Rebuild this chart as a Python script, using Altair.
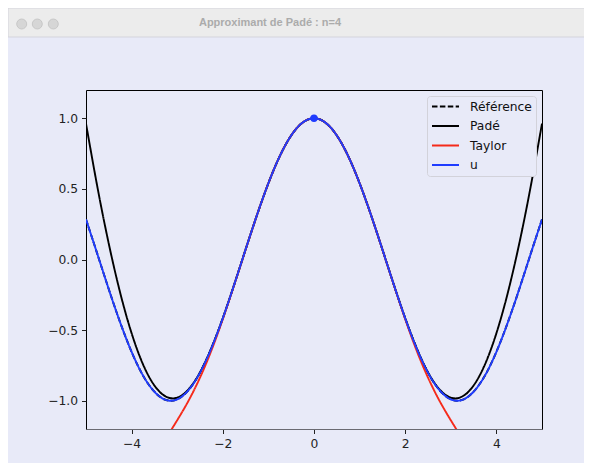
import altair as alt
import pandas as pd

# sample grid (x)
xs = [-5.0, -4.75, -4.5, -4.25, -4.0, -3.75, -3.5, -3.25, -3.0, -2.75, -2.5, -2.25,
      -2.0, -1.75, -1.5, -1.25, -1.0, -0.75, -0.5, -0.25, 0.0, 0.25, 0.5, 0.75,
      1.0, 1.25, 1.5, 1.75, 2.0, 2.25, 2.5, 2.75, 3.0, 3.25, 3.5, 3.75, 4.0,
      4.25, 4.5, 4.75, 5.0]

# "Référence" and "u" (blue) curves
ref_y = [0.284, 0.038, -0.211, -0.446, -0.654, -0.821, -0.936, -0.994, -0.990, -0.924,
         -0.801, -0.628, -0.416, -0.178, 0.071, 0.315, 0.540, 0.732, 0.878, 0.969,
         1.000, 0.969, 0.878, 0.732, 0.540, 0.315, 0.071, -0.178, -0.416, -0.628,
         -0.801, -0.924, -0.990, -0.994, -0.936, -0.821, -0.654, -0.446, -0.211,
         0.038, 0.284]
u_y = list(ref_y)

# Padé (black)
pade_y = [0.962, 0.513, 0.111, -0.236, -0.522, -0.742, -0.892, -0.970, -0.978, -0.919,
          -0.799, -0.627, -0.416, -0.178, 0.071, 0.315, 0.540, 0.732, 0.878, 0.969,
          1.000, 0.969, 0.878, 0.732, 0.540, 0.315, 0.071, -0.178, -0.416, -0.627,
          -0.799, -0.919, -0.978, -0.970, -0.892, -0.742, -0.522, -0.236, 0.111,
          0.513, 0.962]

# Taylor (red), only where it stays in view
taylor_x = [-3.25, -3.0, -2.75, -2.5, -2.25, -2.0, -1.75, -1.5, -1.25, -1.0, -0.75,
            -0.5, -0.25, 0.0, 0.25, 0.5, 0.75, 1.0, 1.25, 1.5, 1.75, 2.0, 2.25, 2.5,
            2.75, 3.0, 3.25]
taylor_y = [-1.269, -1.138, -0.999, -0.836, -0.644, -0.422, -0.180, 0.070, 0.315,
            0.540, 0.732, 0.878, 0.969, 1.000, 0.969, 0.878, 0.732, 0.540, 0.315,
            0.070, -0.180, -0.422, -0.644, -0.836, -0.999, -1.138, -1.269]

series = ["Référence", "Padé", "Taylor", "u"]
colors = ["#000000", "#000000", "#f52a1a", "#1f3cff"]
dashes = [[5.5, 2.4], [1, 0], [1, 0], [1, 0]]

point_x = [0.0]
point_y = [1.0]

x_ticks = [-4, -2, 0, 2, 4]
y_ticks = [-1.0, -0.5, 0.0, 0.5, 1.0]

title_text = "Approximant de Padé : n=4"

frames = [
    pd.DataFrame({"series": "Référence", "x": xs, "y": ref_y}),
    pd.DataFrame({"series": "Padé", "x": xs, "y": pade_y}),
    pd.DataFrame({"series": "Taylor", "x": taylor_x, "y": taylor_y}),
    pd.DataFrame({"series": "u", "x": xs, "y": u_y}),
]
df = pd.concat(frames, ignore_index=True)

BG = "#e8eaf8"
FONT = "DejaVu Sans"

xscale = alt.Scale(domain=[-5, 5], nice=False, zero=False)
yscale = alt.Scale(domain=[-1.2, 1.2], nice=False, zero=False)

xenc = alt.X("x:Q", scale=xscale,
             axis=alt.Axis(values=x_ticks, format="d", title=None, grid=False,
                           domainColor="#6a6a72"))
yenc = alt.Y("y:Q", scale=yscale,
             axis=alt.Axis(values=y_ticks, format=".1f", title=None, grid=False,
                           domain=False))
color = alt.Color("series:N", title=None,
                  scale=alt.Scale(domain=series, range=colors),
                  legend=alt.Legend(orient="top-right", offset=6,
                                    symbolType="stroke", clipHeight=13,
                                    symbolSize=730, symbolStrokeWidth=1.9,
                                    labelFontSize=12.3, labelFont=FONT,
                                    labelColor="#111111", rowPadding=6.5,
                                    padding=4, labelOffset=10,
                                    fillColor=BG, strokeColor="#d2d2da",
                                    cornerRadius=3))
dash = alt.StrokeDash("series:N", title=None,
                      scale=alt.Scale(domain=series, range=dashes))

base = alt.Chart(df)
layers = []
for s in series:
    layers.append(
        base.transform_filter(alt.datum.series == s)
        .mark_line(strokeWidth=1.9, clip=True, interpolate="natural")
        .encode(x=xenc, y=yenc, color=color, strokeDash=dash)
    )

pt = alt.Chart(pd.DataFrame({"x": point_x, "y": point_y})).mark_circle(
    size=55, color="#1f3cff", opacity=1
).encode(x=alt.X("x:Q", scale=xscale), y=alt.Y("y:Q", scale=yscale))

# window chrome (title bar, title, buttons)
one = pd.DataFrame({"a": [0]})
bar = alt.Chart(one).mark_rect(color="#ececec", stroke="#d4d4dc", strokeWidth=1).encode(
    x=alt.value(-78), x2=alt.value(500), y=alt.value(-82), y2=alt.value(-53)
)
ttl = alt.Chart(one).mark_text(
    text=title_text, font="Liberation Sans", fontWeight="bold", fontSize=11,
    color="#ababab", align="center", baseline="middle"
).encode(x=alt.value(184), y=alt.value(-67))
dots = [
    alt.Chart(one).mark_circle(size=100, color="#d6d6d6", stroke="#c2c2c2",
                               strokeWidth=0.8, opacity=1)
    .encode(x=alt.value(px), y=alt.value(-66))
    for px in [-64.3, -48.7, -32.7]
]

chart = alt.layer(bar, ttl, *dots, *layers, pt).properties(
    width=456, height=339,
    autosize=alt.AutoSizeParams(type="none"),
    padding={"left": 78, "top": 82, "right": 42, "bottom": 34},
    background=BG,
).configure_view(
    stroke="black", strokeWidth=1, fill=BG
).configure_axis(
    labelFont=FONT, labelFontSize=12.3, labelColor="#222222",
    tickColor="#222222", tickSize=4.5, tickWidth=1, labelPadding=4,
)

chart.save("out.html", embed_options={"renderer": "svg", "actions": False})
